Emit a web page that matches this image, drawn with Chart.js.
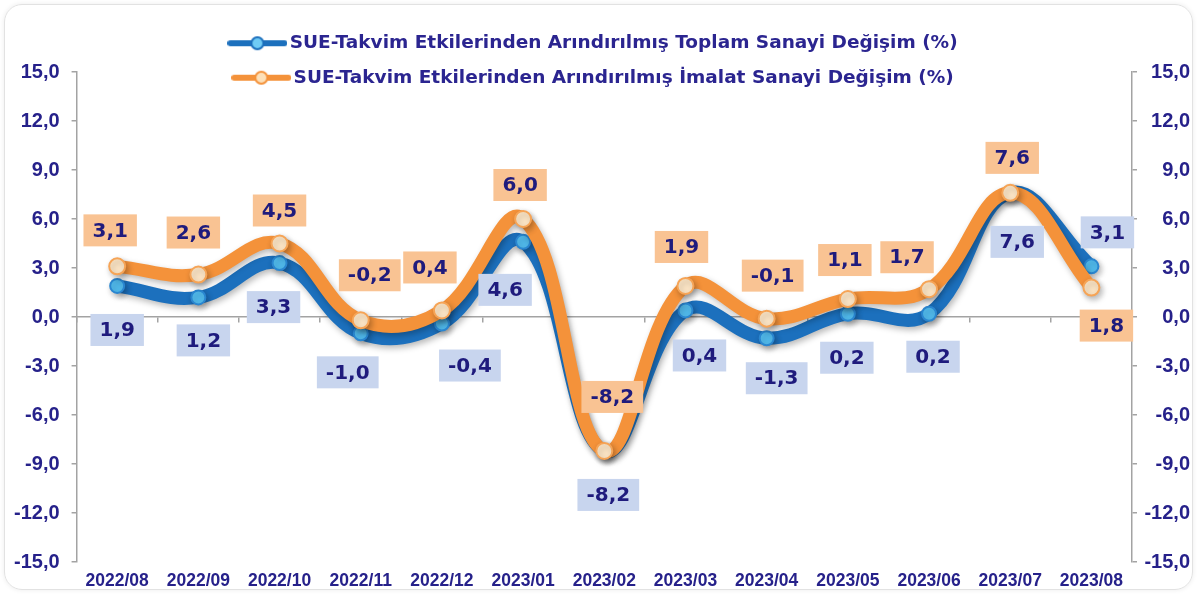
<!DOCTYPE html>
<html lang="tr">
<head>
  <meta charset="UTF-8">
  <title>SUE - Takvim Etkilerinden Arındırılmış Sanayi Değişimi</title>
  <script src="https://cdn.jsdelivr.net/npm/chart.js"></script>
  <style>
    body {
      margin: 0;
      background: #ffffff;
    }

    .frame {
      position: absolute;
      left: 4px;
      top: 4px;
      width: 1187px;
      height: 584px;
      border: 1px solid #e2e2e2;
      border-radius: 18px;
      box-shadow: 0 0 5px rgba(0, 0, 0, 0.08);
    }

    canvas {
      position: absolute;
      left: 0;
      top: 0;
    }
  </style>
</head>
<body>

  <div class="frame"></div>
  <canvas id="sanayiChart" width="1197" height="594"></canvas>

  <script>
    // Data
    const months = ['2022/08', '2022/09', '2022/10', '2022/11', '2022/12', '2023/01', '2023/02',
                    '2023/03', '2023/04', '2023/05', '2023/06', '2023/07', '2023/08'];
    const toplam = [1.9, 1.2, 3.3, -1.0, -0.4, 4.6, -8.2, 0.4, -1.3, 0.2, 0.2, 7.6, 3.1];
    const imalat = [3.1, 2.6, 4.5, -0.2, 0.4, 6.0, -8.2, 1.9, -0.1, 1.1, 1.7, 7.6, 1.8];
    const yMin = -15, yMax = 15, yStep = 3;

    // Value label nudges (px from the point, negative dy = above)
    const toplamLabelDx = [0, 5, -6, -13, 28, -18, 4, 14, 10, -1, 4, 7, 16];
    const toplamLabelDy = [44, 43, 44, 39, 42, 48, 44, 45, 40, 44, 43, 49, -34];
    const imalatLabelDx = [-7, -5, 0, 9, -12, -3, 8, -4, 6, -3, -22, 2, 15];
    const imalatLabelDy = [-36, -42, -33, -45, -43, -34, -54, -39, -43, -39, -32, -35, 38];

    const BLUE = '#1c70bd';
    const ORANGE = '#f4923a';
    const NAVY = '#26218a';

    const fmt = v => v.toFixed(1).replace('.', ',');

    // Legend marker: line with a circle in the middle
    function legendMarker(line, fill) {
      const c = document.createElement('canvas');
      c.width = 60;
      c.height = 16;
      const g = c.getContext('2d');
      g.strokeStyle = line;
      g.lineWidth = 6;
      g.lineCap = 'round';
      g.beginPath();
      g.moveTo(3, 8);
      g.lineTo(57, 8);
      g.stroke();
      g.beginPath();
      g.arc(30, 8, 6, 0, Math.PI * 2);
      g.fillStyle = fill;
      g.fill();
      g.lineWidth = 2;
      g.stroke();
      return c;
    }

    // Legend overlaps the top of the plot a bit: shrink it for layout, restore it for drawing
    const LEGEND_OVERLAP = 25;
    const legendSqueeze = {
      id: 'legendSqueeze',
      beforeInit(chart) {
        const fit = chart.legend.fit;
        chart.legend.fit = function () {
          fit.bind(chart.legend)();
          this.height -= LEGEND_OVERLAP;
        };
      },
      afterLayout(chart) {
        chart.legend.height += LEGEND_OVERLAP;
        chart.legend.bottom += LEGEND_OVERLAP;
      }
    };

    const lineShadow = {
      id: 'lineShadow',
      beforeDatasetDraw(chart) {
        const c = chart.ctx;
        c.save();
        c.shadowColor = 'rgba(0, 0, 0, 0.28)';
        c.shadowBlur = 6;
        c.shadowOffsetX = 2;
        c.shadowOffsetY = 3;
      },
      afterDatasetDraw(chart) {
        chart.ctx.restore();
      }
    };

    const valueLabels = {
      id: 'valueLabels',
      afterDatasetsDraw(chart) {
        const ctx = chart.ctx;
        ctx.save();
        ctx.font = 'bold 20px "DejaVu Sans"';
        ctx.textAlign = 'center';
        ctx.textBaseline = 'middle';
        chart.data.datasets.forEach((ds, i) => {
          const meta = chart.getDatasetMeta(i);
          meta.data.forEach((pt, j) => {
            const text = fmt(ds.data[j]);
            const x = pt.x + ds.labelDx[j];
            const y = pt.y + ds.labelDy[j];
            const w = ctx.measureText(text).width + 18;
            const h = 32;
            ctx.fillStyle = ds.labelBox;
            ctx.fillRect(x - w / 2, y - h / 2, w, h);
            ctx.fillStyle = '#1f1b7d';
            ctx.fillText(text, x, y + 1);
          });
        });
        ctx.restore();
      }
    };

    const tickFont = { family: '"Liberation Sans", Arial, sans-serif', size: 20, weight: 'bold' };
    const axisGrey = '#a3a3a3';

    const yAxis = (position, padding) => ({
      position: position,
      min: yMin,
      max: yMax,
      ticks: {
        stepSize: yStep,
        padding: padding,
        color: NAVY,
        font: tickFont,
        crossAlign: position === 'right' ? 'far' : 'near',
        callback: v => fmt(v)
      },
      grid: { drawOnChartArea: false, drawTicks: true, tickLength: 5, color: axisGrey, lineWidth: 1.5 },
      border: { color: axisGrey, width: 1.5 }
    });

    new Chart(document.getElementById('sanayiChart'), {
      type: 'line',
      data: {
        labels: months,
        datasets: [
          {
            label: 'SUE-Takvim Etkilerinden Arındırılmış Toplam Sanayi Değişim (%)',
            data: toplam,
            borderColor: BLUE,
            borderWidth: 13,
            tension: 0.4,
            pointRadius: 7,
            pointBackgroundColor: '#52bdf0',
            pointBorderColor: '#2a86d0',
            pointBorderWidth: 2,
            order: 1,
            marker: legendMarker(BLUE, '#6fcbf5'),
            labelBox: '#c8d5ee',
            labelDx: toplamLabelDx,
            labelDy: toplamLabelDy
          },
          {
            label: 'SUE-Takvim Etkilerinden Arındırılmış İmalat Sanayi Değişim (%)',
            data: imalat,
            borderColor: ORANGE,
            borderWidth: 13,
            tension: 0.4,
            pointRadius: 8,
            pointBackgroundColor: '#fde6c6',
            pointBorderColor: '#f6a456',
            pointBorderWidth: 2,
            order: 0,
            marker: legendMarker(ORANGE, '#fde0b8'),
            labelBox: '#f9c393',
            labelDx: imalatLabelDx,
            labelDy: imalatLabelDy
          }
        ]
      },
      options: {
        responsive: false,
        animation: false,
        layout: { padding: { top: 18, left: 2, right: 7, bottom: -7 } },
        plugins: {
          legend: {
            position: 'top',
            labels: {
              usePointStyle: true,
              pointStyleWidth: 46,
              padding: 16,
              color: '#2b2590',
              font: { family: '"DejaVu Sans", sans-serif', size: 18.5, weight: 'bold' },
              generateLabels: chart => chart.data.datasets.map((ds, i) => ({
                text: ds.label,
                pointStyle: ds.marker,
                fontColor: '#2b2590',
                fillStyle: 'transparent',
                strokeStyle: 'transparent',
                lineWidth: 0,
                hidden: false,
                datasetIndex: i
              }))
            }
          },
          tooltip: { enabled: false }
        },
        scales: {
          x: {
            offset: true,
            ticks: {
              autoSkip: false,
              maxRotation: 0,
              padding: 9,
              color: NAVY,
              font: { family: '"Liberation Sans", Arial, sans-serif', size: 17.5, weight: 'bold' }
            },
            grid: { display: false, drawTicks: false },
            border: { display: false }
          },
          zero: {
            type: 'category',
            axis: 'x',
            position: { y: 0 },
            offset: true,
            ticks: { display: false },
            grid: { offset: true, drawOnChartArea: false, drawTicks: true, tickLength: 5, color: axisGrey, lineWidth: 1.5 },
            border: { color: axisGrey, width: 1.5 }
          },
          y: yAxis('left', 12),
          y1: yAxis('right', 3.7)
        }
      },
      plugins: [legendSqueeze, lineShadow, valueLabels]
    });
  </script>

</body>
</html>
